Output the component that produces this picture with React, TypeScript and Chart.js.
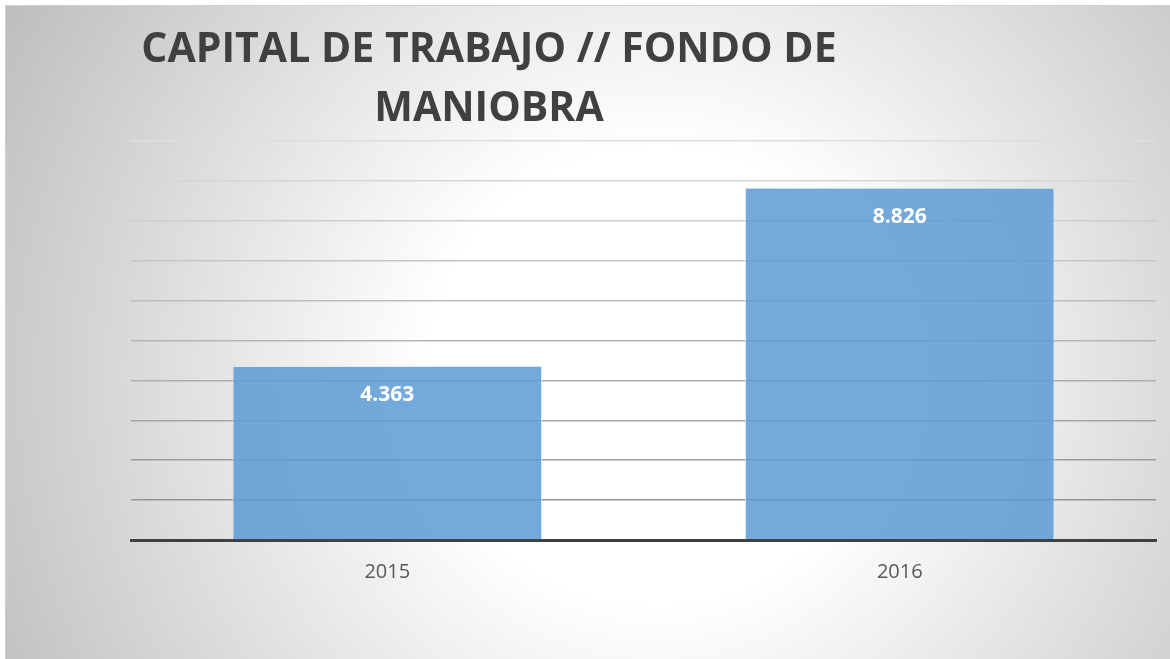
import React, { useEffect, useRef } from "react";
import { Chart, registerables } from "chart.js";

Chart.register(...registerables);

const categories = ["2015", "2016"];
const values = [4363, 8826];
const titleLines = ["CAPITAL DE TRABAJO // FONDO DE", "MANIOBRA"];
const yMax = 10000;
const yStep = 1000;

const fmt = (v: number) => {
  const s = Math.round(v).toString();
  return s.replace(/\B(?=(\d{3})+(?!\d))/g, ".");
};

const W = 1164;
const H = 653;

export default function App() {
  const ref = useRef<HTMLCanvasElement | null>(null);
  useEffect(() => {
    if (!ref.current) return;
    const bgPlugin = {
      id: "bg",
      beforeDraw(chart: any) {
        const ctx = chart.ctx;
        ctx.save();
        const g = ctx.createRadialGradient(650, 370, 0, 650, 370, 760);
        g.addColorStop(0, "#ffffff");
        g.addColorStop(0.3, "#ffffff");
        g.addColorStop(1, "#bcbcbc");
        ctx.fillStyle = g;
        ctx.fillRect(0, 0, chart.width, chart.height);
        ctx.restore();
      },
    };
    const titlePlugin = {
      id: "tt",
      afterDraw(chart: any) {
        const ctx = chart.ctx;
        ctx.save();
        ctx.fillStyle = "#404040";
        ctx.font = "bold 41px 'Open Sans'";
        ctx.textAlign = "center";
        ctx.textBaseline = "alphabetic";
        ctx.fillText(titleLines[0], 483, 56);
        ctx.fillText(titleLines[1], 483, 115);
        ctx.restore();
      },
    };
    const labelPlugin = {
      id: "lbl",
      afterDatasetsDraw(chart: any) {
        const ctx = chart.ctx;
        const meta = chart.getDatasetMeta(0);
        ctx.save();
        ctx.fillStyle = "#ffffff";
        ctx.font = "bold 21px 'Open Sans'";
        ctx.textAlign = "center";
        ctx.textBaseline = "middle";
        meta.data.forEach((el: any, i: number) => {
          ctx.fillText(fmt(values[i]), el.x, el.y + 29);
        });
        ctx.restore();
      },
    };
    const nGrid = yMax / yStep;
    const chart = new Chart(ref.current, {
      type: "bar",
      data: {
        labels: categories,
        datasets: [
          {
            data: values,
            backgroundColor: "rgba(91,155,213,0.85)",
            borderColor: "rgba(215,232,248,0.9)",
            borderWidth: 1,
            barPercentage: 0.604,
            categoryPercentage: 1,
          },
        ],
      },
      options: {
        responsive: false,
        animation: false,
        layout: { padding: { left: 125, right: 14, top: 135, bottom: 55 } },
        plugins: {
          legend: { display: false },
          title: { display: false },
          tooltip: { enabled: false },
        },
        scales: {
          x: {
            grid: { display: false, drawTicks: false },
            border: { display: true, color: "#404040", width: 3 },
            ticks: {
              padding: 20,
              color: "#595959",
              font: { family: "'Open Sans'", size: 20 },
            },
          },
          y: {
            min: 0,
            max: yMax,
            ticks: { display: false, stepSize: yStep },
            border: { display: false },
            grid: {
              drawTicks: false,
              lineWidth: 1.5,
              color: (c: any) => {
                const t = c.index / nGrid;
                const v = Math.round(140 + (222 - 140) * t);
                return `rgb(${v},${v},${v})`;
              },
            },
          },
        },
      },
      plugins: [bgPlugin, titlePlugin, labelPlugin],
    });
    return () => chart.destroy();
  }, []);
  return (
    <div
      style={{
        position: "fixed",
        left: 5,
        top: 5,
        width: W,
        height: H,
        borderLeft: "1px solid #d0d0d0",
        borderTop: "1px solid #d0d0d0",
      }}
    >
      <canvas ref={ref} width={W} height={H} style={{ display: "block" }} />
    </div>
  );
}
